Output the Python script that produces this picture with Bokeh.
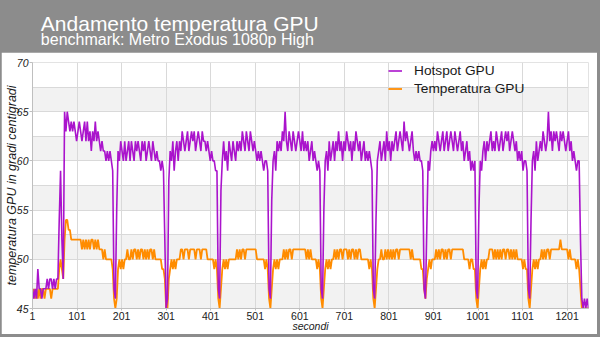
from bokeh.plotting import figure
from bokeh.models import (FixedTicker, BoxAnnotation, Label, Legend, LegendItem,
                          Range1d, ColumnDataSource)
from bokeh.layouts import column
from bokeh.embed import file_html
from bokeh.resources import INLINE

title = "Andamento temperatura GPU"
subtitle = "benchmark: Metro Exodus 1080p High"
y_label = "temperatura GPU in gradi centigradi"
x_label = "secondi"
series_names = ["Hotspot GPU", "Temperatura GPU"]

x_ticks = [1, 101, 201, 301, 401, 501, 601, 701, 801, 901, 1001, 1101, 1201]
y_ticks = [45, 50, 55, 60, 65, 70]
y_grid = [45, 47.5, 50, 52.5, 55, 57.5, 60, 62.5, 65, 67.5, 70]

# samples every 3 seconds (1, 4, 7, ... 1249)
seconds = list(range(1, 1250, 3))

hotspot = [
    47, 46, 47, 46, 49, 47, 47, 46, 47, 47,
    47, 48, 47, 48, 48, 47, 48, 47, 48, 48,
    54, 59, 52, 48, 65, 63, 65, 64, 63, 64,
    63, 64, 63, 62, 63, 64, 63, 62, 63, 64,
    62, 64, 62, 63, 61, 63, 62, 64, 62, 63,
    62, 61, 62, 61, 61, 60, 61, 60, 61, 60,
    59, 47, 46, 55, 61, 60, 62, 61, 60, 62,
    60, 61, 62, 60, 62, 61, 60, 62, 61, 62,
    61, 60, 62, 61, 62, 60, 61, 62, 61, 60,
    62, 61, 60, 61, 60, 60, 59, 60, 59, 52,
    45, 46, 58, 61, 60, 62, 59, 61, 62, 60,
    62, 61, 63, 62, 61, 62, 63, 61, 62, 63,
    62, 63, 61, 62, 63, 62, 61, 63, 62, 62,
    61, 62, 61, 60, 61, 60, 60, 59, 59, 47,
    46, 57, 60, 62, 60, 61, 59, 62, 61, 60,
    62, 61, 60, 62, 61, 62, 61, 63, 62, 61,
    63, 62, 61, 63, 62, 61, 62, 61, 60, 61,
    60, 61, 60, 59, 60, 60, 59, 47, 46, 56,
    60, 61, 59, 62, 61, 62, 61, 63, 62, 65,
    62, 61, 63, 62, 61, 63, 62, 61, 62, 63,
    62, 61, 63, 61, 62, 61, 62, 60, 61, 62,
    60, 61, 60, 59, 60, 59, 47, 46, 55, 60,
    61, 59, 62, 60, 61, 62, 60, 62, 61, 63,
    61, 62, 60, 62, 61, 63, 62, 61, 62, 60,
    62, 61, 63, 62, 61, 62, 60, 61, 62, 60,
    61, 60, 61, 60, 59, 47, 46, 54, 60, 61,
    62, 60, 61, 62, 60, 63, 61, 62, 60, 62,
    61, 62, 63, 61, 62, 63, 62, 61, 64, 62,
    63, 62, 61, 62, 63, 61, 60, 61, 60, 61,
    60, 60, 59, 47, 46, 53, 60, 59, 61, 62,
    61, 62, 61, 63, 62, 61, 62, 63, 61, 62,
    63, 61, 62, 63, 62, 61, 63, 62, 61, 62,
    63, 61, 62, 60, 61, 62, 60, 61, 59, 60,
    59, 60, 47, 46, 55, 60, 59, 61, 62, 60,
    62, 61, 62, 63, 61, 62, 61, 63, 62, 61,
    62, 63, 61, 62, 63, 62, 63, 61, 62, 63,
    62, 61, 62, 60, 61, 60, 61, 59, 60, 60,
    59, 47, 46, 54, 60, 61, 59, 62, 60, 61,
    62, 61, 63, 62, 61, 62, 65, 62, 63, 61,
    63, 62, 63, 62, 61, 63, 62, 63, 62, 61,
    62, 63, 61, 62, 60, 61, 60, 59, 60, 60,
    52, 46, 45, 46, 45, 46, 45,
]

temperatura = [
    46, 47, 46, 47, 46, 47, 46, 47, 47, 46,
    47, 47, 47, 47, 46, 47, 47, 47, 47, 47,
    49, 50, 49, 48, 52, 54, 54, 53, 53, 52,
    52, 52, 52, 52, 52, 52, 52, 51, 52, 51,
    52, 51, 52, 51, 52, 52, 51, 52, 51, 52,
    51, 51, 51, 50, 51, 50, 50, 50, 50, 50,
    49, 46, 45, 46, 49, 50, 49, 50, 49, 50,
    50, 51, 50, 50, 51, 50, 51, 51, 50, 51,
    50, 51, 51, 50, 51, 50, 51, 50, 51, 51,
    50, 51, 50, 50, 50, 50, 50, 49, 49, 48,
    45, 45, 48, 49, 50, 49, 50, 49, 50, 50,
    50, 51, 51, 50, 51, 51, 51, 50, 51, 51,
    51, 51, 50, 51, 51, 51, 50, 51, 51, 51,
    51, 50, 50, 50, 50, 50, 49, 50, 49, 46,
    45, 47, 49, 50, 49, 50, 49, 50, 50, 50,
    50, 50, 50, 51, 50, 51, 50, 51, 51, 50,
    51, 51, 51, 51, 51, 51, 51, 51, 50, 50,
    50, 50, 50, 50, 49, 50, 49, 46, 45, 47,
    49, 50, 49, 50, 49, 50, 50, 50, 51, 50,
    51, 50, 51, 51, 50, 51, 51, 51, 51, 51,
    51, 51, 51, 51, 51, 50, 51, 50, 51, 50,
    50, 50, 50, 49, 50, 49, 46, 45, 47, 49,
    50, 49, 50, 49, 50, 50, 51, 50, 51, 50,
    51, 51, 50, 51, 51, 51, 50, 51, 50, 51,
    51, 50, 51, 50, 51, 51, 50, 50, 50, 50,
    50, 50, 49, 50, 49, 46, 45, 47, 49, 50,
    50, 51, 50, 50, 51, 50, 51, 50, 51, 50,
    51, 50, 51, 51, 50, 51, 51, 51, 51, 51,
    51, 51, 51, 50, 51, 50, 50, 50, 50, 50,
    50, 49, 49, 47, 46, 48, 49, 50, 49, 50,
    50, 50, 51, 50, 51, 50, 51, 51, 50, 51,
    50, 51, 51, 50, 51, 51, 51, 51, 51, 51,
    51, 51, 51, 50, 50, 50, 50, 49, 50, 50,
    49, 49, 46, 45, 47, 49, 50, 49, 50, 49,
    50, 50, 51, 51, 51, 50, 51, 50, 51, 50,
    51, 50, 51, 51, 50, 51, 51, 50, 51, 50,
    51, 50, 51, 50, 50, 50, 50, 49, 50, 49,
    49, 46, 45, 47, 49, 50, 49, 50, 49, 50,
    50, 51, 50, 51, 50, 51, 51, 50, 51, 51,
    51, 51, 51, 51, 51, 52, 51, 51, 51, 51,
    51, 50, 51, 50, 50, 50, 50, 49, 50, 49,
    47, 45, 45, 45, 45, 45, 45,
]

PURPLE = "#AA14CC"
ORANGE = "#FF8C00"
HEADER = "#8c8c8c"
FONT = "Liberation Sans"

n = min(len(seconds), len(hotspot), len(temperatura))
src = ColumnDataSource(dict(t=seconds[:n], h=hotspot[:n], g=temperatura[:n]))

# ---------- header ----------
header = figure(width=600, height=52, x_range=Range1d(0, 600), y_range=Range1d(0, 52),
                toolbar_location=None, output_backend="svg",
                x_axis_location=None, y_axis_location=None, min_border=0)
header.grid.visible = False
header.background_fill_color = HEADER
header.border_fill_color = HEADER
header.outline_line_color = None
header.add_layout(Label(x=10, y=29.5, text=title, text_color="white", text_font=FONT,
                        text_font_size="21px", text_baseline="alphabetic"))
header.add_layout(Label(x=10, y=13.5, text=subtitle, text_color="white", text_font=FONT,
                        text_font_size="16px", text_baseline="alphabetic"))

# ---------- main chart ----------
p = figure(width=596, height=282, x_range=Range1d(seconds[0], seconds[-1]),
           y_range=Range1d(y_ticks[0], y_ticks[-1]),
           toolbar_location=None, output_backend="svg",
           min_border_left=31, min_border_right=9, min_border_top=10, min_border_bottom=26)
p.margin = (0, 3, 3, 1)
p.background_fill_color = "white"
p.border_fill_color = "white"
p.outline_line_color = None

for b in y_ticks[:-1]:
    p.add_layout(BoxAnnotation(bottom=b, top=b + 2.5, fill_color="#f2f2f2", fill_alpha=1.0,
                               line_color=None, level="image"))

p.xaxis.ticker = FixedTicker(ticks=x_ticks)
p.xgrid.ticker = FixedTicker(ticks=x_ticks)
p.yaxis.ticker = FixedTicker(ticks=y_ticks)
p.ygrid.ticker = FixedTicker(ticks=y_grid)
p.grid.grid_line_color = "#d9d9d9"
p.grid.grid_line_width = 1

p.axis.axis_line_color = "#bfbfbf"
p.axis.major_tick_line_color = "#bfbfbf"
p.axis.minor_tick_line_color = None
p.axis.major_tick_in = 0
p.axis.major_tick_out = 3
p.axis.major_label_text_font = FONT
p.axis.major_label_text_font_size = "10.5px"
p.axis.major_label_text_color = "#1a1a1a"
p.axis.axis_label_text_font = FONT
p.axis.axis_label_text_font_style = "italic"
p.axis.axis_label_text_font_size = "10.5px"
p.axis.axis_label_text_color = "#1a1a1a"
p.yaxis.axis_label_text_font_size = "12.5px"
p.yaxis.major_label_text_font_style = "italic"
p.yaxis.major_label_standoff = 1
p.yaxis.axis_label_standoff = -5
p.xaxis.major_tick_out = 2
p.xaxis.major_label_standoff = 1
p.xaxis.axis_label_standoff = -3

p.xaxis.axis_label = x_label
p.yaxis.axis_label = y_label

r_t = p.line("t", "g", source=src, color=ORANGE, line_width=1.8)
r_h = p.line("t", "h", source=src, color=PURPLE, line_width=1.6)

legend = Legend(items=[LegendItem(label=series_names[0], renderers=[r_h]),
                       LegendItem(label=series_names[1], renderers=[r_t])],
                location=(356, 212), padding=0, margin=0, spacing=3,
                glyph_width=14, glyph_height=15, label_height=15, label_standoff=12,
                border_line_color=None, background_fill_alpha=0,
                label_text_font=FONT, label_text_font_size="13.7px",
                label_text_color="#1a1a1a")
p.add_layout(legend)

layout = column(header, p, styles={"background-color": HEADER})
open("out.html", "w").write(file_html(layout, INLINE))
